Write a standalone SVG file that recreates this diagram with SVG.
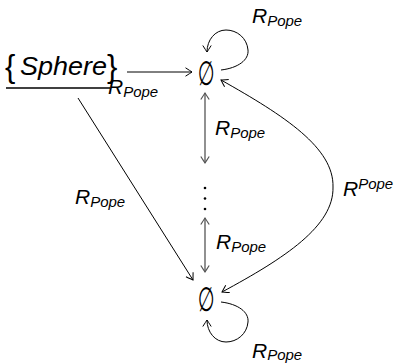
<svg xmlns="http://www.w3.org/2000/svg" width="395" height="364" viewBox="0 0 395 364">
<style>
.lbl{font-family:"Liberation Sans","DejaVu Sans",sans-serif;font-style:italic;font-size:21px;fill:#000}
.sub{font-size:15px}
.es{font-family:"Liberation Sans","DejaVu Sans",sans-serif;font-size:32px;fill:#000;text-anchor:middle}
.e{fill:none;stroke:#000;stroke-width:1}
.g{fill:none;stroke:#555;stroke-width:1.3}
</style>
<defs>
<marker id="ah" viewBox="-8 -5 10 10" markerWidth="10" markerHeight="10" refX="0" refY="0" orient="auto-start-reverse" markerUnits="userSpaceOnUse">
<path d="M -6.5 -4.2 Q -1.5 -1 0 0 Q -1.5 1 -6.5 4.2" fill="none" stroke="#000" stroke-width="1"/>
</marker>
<marker id="ahg" viewBox="-8 -5 10 10" markerWidth="10" markerHeight="10" refX="0" refY="0" orient="auto-start-reverse" markerUnits="userSpaceOnUse">
<path d="M -6.5 -4.2 Q -1.5 -1 0 0 Q -1.5 1 -6.5 4.2" fill="none" stroke="#555" stroke-width="1.2"/>
</marker>
</defs>
<g id="sphere">
<text x="5" y="77" font-family="Liberation Sans, DejaVu Sans, sans-serif" font-size="31">{</text>
<text x="20" y="75" font-family="Liberation Sans, DejaVu Sans, sans-serif" font-size="25" font-style="italic" textLength="87" lengthAdjust="spacingAndGlyphs">Sphere</text>
<text x="107" y="77" font-family="Liberation Sans, DejaVu Sans, sans-serif" font-size="31">}</text>
<line x1="6" y1="88" x2="110" y2="88" stroke="#000" stroke-width="1.3"/>
</g>
<g id="top">
<text class="es" transform="translate(206,85) scale(0.6,1.05)">∅</text>
</g>
<g id="dots">
<circle cx="205" cy="188" r="1.3" fill="#000"/>
<circle cx="205" cy="198.5" r="1.3" fill="#000"/>
<circle cx="205" cy="209" r="1.3" fill="#000"/>
</g>
<g id="bottom">
<text class="es" transform="translate(206,311) scale(0.6,1.05)">∅</text>
</g>
<g id="connectors">
<line class="e" x1="127" y1="72" x2="192" y2="72" marker-end="url(#ah)"/>
<line class="e" x1="78" y1="98" x2="193" y2="280" marker-end="url(#ah)"/>
<path class="e" d="M 221 70 C 238 68, 249 60, 248 50 C 247 38, 237 30, 226 30 C 215 30, 207 40, 207 52" marker-end="url(#ah)"/>
<path class="e" d="M 221 302 C 238 304, 249 312, 248 322 C 247 334, 237 342, 226 342 C 215 342, 207 332, 207 320" marker-end="url(#ah)"/>
<line class="g" x1="205" y1="93" x2="205" y2="163" marker-start="url(#ahg)" marker-end="url(#ahg)"/>
<line class="g" x1="205" y1="218" x2="205" y2="272" marker-start="url(#ahg)" marker-end="url(#ahg)"/>
<path class="e" d="M 221 80 C 285 116, 334 148, 333 187 C 334 226, 285 258, 222 292" marker-start="url(#ah)" marker-end="url(#ah)"/>
</g>
<g id="labels">
<text class="lbl" x="252" y="23">R<tspan class="sub" dy="3">Pope</tspan></text>
<text class="lbl" x="108" y="94">R<tspan class="sub" dy="3">Pope</tspan></text>
<text class="lbl" x="215" y="135">R<tspan class="sub" dy="3">Pope</tspan></text>
<text class="lbl" x="75" y="204">R<tspan class="sub" dy="3">Pope</tspan></text>
<text class="lbl" x="216" y="249">R<tspan class="sub" dy="3">Pope</tspan></text>
<text class="lbl" x="252" y="358">R<tspan class="sub" dy="2">Pope</tspan></text>
<text class="lbl" x="343" y="196">R<tspan class="sub" dy="-7">Pope</tspan></text>
</g>
</svg>
